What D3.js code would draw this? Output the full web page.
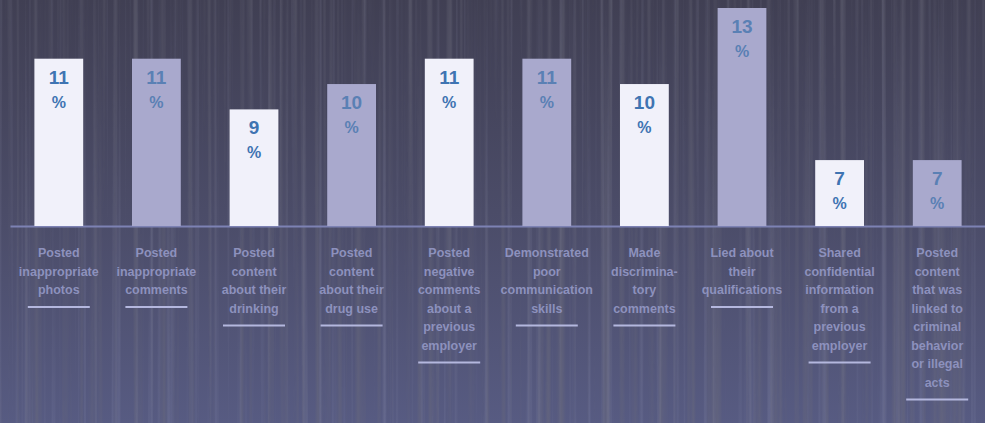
<!DOCTYPE html>
<html>
<head>
<meta charset="utf-8">
<script src="https://cdn.jsdelivr.net/npm/d3@7/dist/d3.min.js"></script>
<style>
  html, body { margin: 0; padding: 0; background: #4a4b66; }
  svg { display: block; }
</style>
</head>
<body>
<svg id="chart" width="985" height="423"></svg>
<script>
// ---- data ----
const categories = [
  "Posted inappropriate photos",
  "Posted inappropriate comments",
  "Posted content about their drinking",
  "Posted content about their drug use",
  "Posted negative comments about a previous employer",
  "Demonstrated poor communication skills",
  "Made discriminatory comments",
  "Lied about their qualifications",
  "Shared confidential information from a previous employer",
  "Posted content that was linked to criminal behavior or illegal acts"
];
const labelLines = [
  ["Posted", "inappropriate", "photos"],
  ["Posted", "inappropriate", "comments"],
  ["Posted", "content", "about their", "drinking"],
  ["Posted", "content", "about their", "drug use"],
  ["Posted", "negative", "comments", "about a", "previous", "employer"],
  ["Demonstrated", "poor", "communication", "skills"],
  ["Made", "discrimina-", "tory", "comments"],
  ["Lied about", "their", "qualifications"],
  ["Shared", "confidential", "information", "from a", "previous", "employer"],
  ["Posted", "content", "that was", "linked to", "criminal", "behavior", "or illegal", "acts"]
];
const values = [11, 11, 9, 10, 11, 11, 10, 13, 7, 7];
const valueSuffix = "%";

// ---- layout ----
const W = 985, H = 423;
const baseY = 226, topY = 8;
const svg = d3.select("#chart");

const defs = svg.append("defs");
const bg = defs.append("linearGradient").attr("id", "bg").attr("x1", 0).attr("y1", 0).attr("x2", 0).attr("y2", 1);
bg.append("stop").attr("offset", "0%").attr("stop-color", "#403f53");
bg.append("stop").attr("offset", "50%").attr("stop-color", "#4b4c68");
bg.append("stop").attr("offset", "100%").attr("stop-color", "#575b82");
svg.append("rect").attr("width", W).attr("height", H).attr("fill", "url(#bg)");

// vertical streak texture (decorative)
const fd = defs.append("filter").attr("id", "streaksDark").attr("x", 0).attr("y", 0).attr("width", 1).attr("height", 1);
fd.append("feTurbulence").attr("type", "fractalNoise").attr("baseFrequency", "0.15 0.001").attr("numOctaves", 2).attr("seed", 7);
fd.append("feColorMatrix").attr("type", "matrix")
  .attr("values", "0 0 0 0 0.15  0 0 0 0 0.15  0 0 0 0 0.2  -2.0 0 0 0 1.05");
svg.append("rect").attr("width", W).attr("height", H).attr("filter", "url(#streaksDark)").attr("opacity", 0.7);

const fl = defs.append("filter").attr("id", "streaksLight").attr("x", 0).attr("y", 0).attr("width", 1).attr("height", 1);
fl.append("feTurbulence").attr("type", "fractalNoise").attr("baseFrequency", "0.22 0.001").attr("numOctaves", 2).attr("seed", 11);
fl.append("feColorMatrix").attr("type", "matrix")
  .attr("values", "0 0 0 0 0.5  0 0 0 0 0.52  0 0 0 0 0.68  2.0 0 0 0 -1.1");
svg.append("rect").attr("width", W).attr("height", H).attr("filter", "url(#streaksLight)").attr("opacity", 0.22);

const x = d3.scaleBand()
  .domain(categories)
  .range([10, 986])
  .paddingInner(0.5)
  .paddingOuter(0.25);

const y = d3.scaleLinear()
  .domain([4.4, 13])
  .range([baseY, topY]);

// baseline axis
const axis = svg.append("g").attr("transform", `translate(0,${baseY})`)
  .call(d3.axisBottom(x).tickSize(0).tickFormat(""));
axis.select(".domain").attr("stroke", "#7d82b4").attr("stroke-width", 2);

const fills = ["#f1f1fa", "#a9a9cd"];
const textCols = ["#3f74b2", "#5a80b4"];

const g = svg.append("g");
const bars = g.selectAll("g.bar").data(categories).join("g").attr("class", "bar");

bars.append("rect")
  .attr("x", d => x(d))
  .attr("y", (d, i) => y(values[i]))
  .attr("width", x.bandwidth())
  .attr("height", (d, i) => baseY - y(values[i]))
  .attr("fill", (d, i) => fills[i % 2]);

bars.append("text")
  .attr("x", d => x(d) + x.bandwidth() / 2)
  .attr("y", (d, i) => y(values[i]) + 25)
  .attr("text-anchor", "middle")
  .attr("font-family", "Liberation Sans, Arial, sans-serif")
  .attr("font-weight", "bold")
  .attr("font-size", 19)
  .attr("fill", (d, i) => textCols[i % 2])
  .text((d, i) => values[i]);

bars.append("text")
  .attr("x", d => x(d) + x.bandwidth() / 2)
  .attr("y", (d, i) => y(values[i]) + 49)
  .attr("text-anchor", "middle")
  .attr("font-family", "Liberation Sans, Arial, sans-serif")
  .attr("font-weight", "bold")
  .attr("font-size", 16)
  .attr("fill", (d, i) => textCols[i % 2])
  .text(valueSuffix);

// category labels
const lineH = 18.5, firstY = 257;
const lab = bars.append("text")
  .attr("text-anchor", "middle")
  .attr("font-family", "Liberation Sans, Arial, sans-serif")
  .attr("font-weight", "bold")
  .attr("font-size", 12.5)
  .attr("fill", "#8d91bd");
lab.each(function(d, i) {
  const cx = x(d) + x.bandwidth() / 2;
  d3.select(this).selectAll("tspan").data(labelLines[i]).join("tspan")
    .attr("x", cx)
    .attr("y", (t, j) => firstY + j * lineH)
    .text(t => t);
});

bars.append("line")
  .attr("x1", d => x(d) + x.bandwidth() / 2 - 31)
  .attr("x2", d => x(d) + x.bandwidth() / 2 + 31)
  .attr("y1", (d, i) => firstY + (labelLines[i].length - 1) * lineH + 13)
  .attr("y2", (d, i) => firstY + (labelLines[i].length - 1) * lineH + 13)
  .attr("stroke", "#b4b7de")
  .attr("stroke-width", 2);
</script>
</body>
</html>
